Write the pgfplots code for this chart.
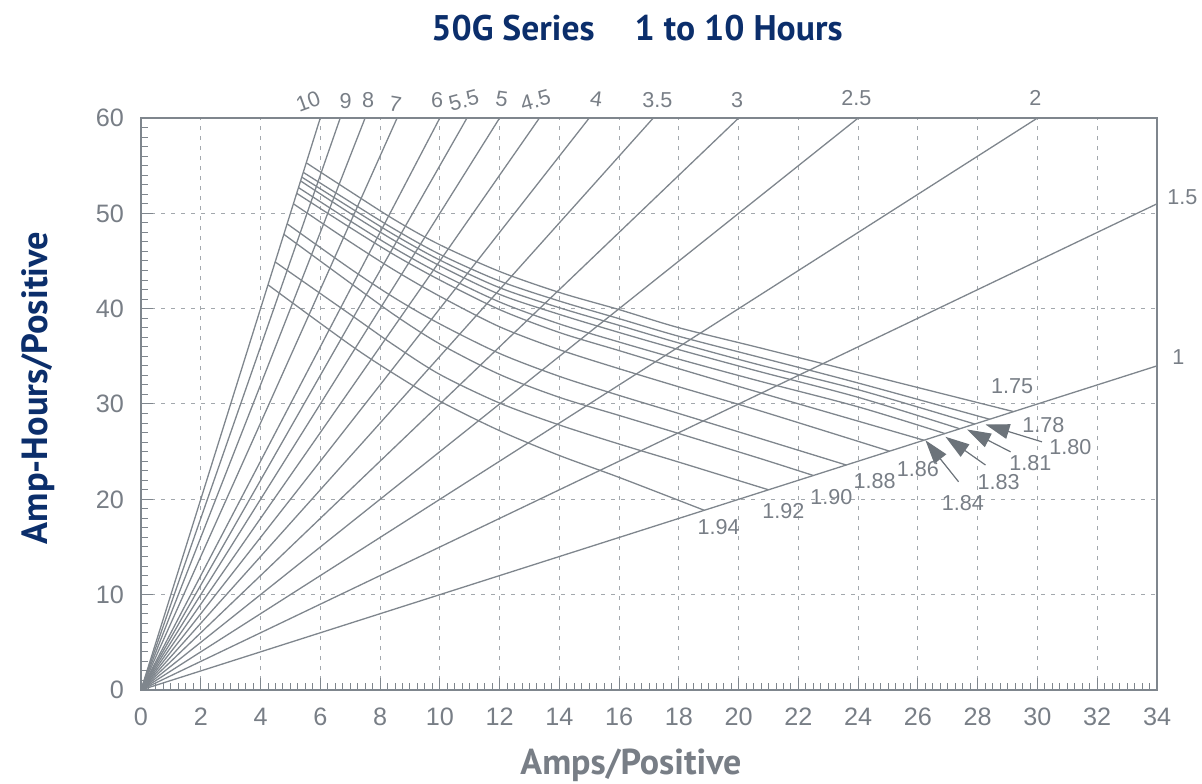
\documentclass[border=0pt]{standalone}
\usepackage{fontspec}
\setmainfont{Liberation Sans}
\newfontfamily\titlefont{PT Sans}
\usepackage{pgfplots}
\pgfplotsset{compat=1.18}
\usetikzlibrary{arrows.meta}
\definecolor{ln}{HTML}{7F868D}
\definecolor{txt}{HTML}{787E86}
\definecolor{navy}{HTML}{0B2E6B}
\definecolor{grd}{HTML}{A3A8AD}
\definecolor{arr}{HTML}{6C737A}
\tikzset{
  hl/.style={ln, line width=0.65pt},
  cv/.style={ln, line width=0.65pt, smooth},
  ar/.style={arr, line width=0.6pt, -{Triangle[length=12pt, width=7.5pt]}},
  vl/.style={txt, inner sep=1pt, font=\fontsize{10.8}{10.8}\selectfont},
}
\begin{document}
\begin{tikzpicture}
\begin{axis}[name=ax, scale only axis, width=508pt, height=286pt,
  xmin=0, xmax=34, ymin=0, ymax=60,
  xtick={0,2,...,34}, ytick={0,10,...,60},
  minor x tick num=7, minor y tick num=9,
  tick align=inside, xtick pos=bottom, ytick pos=left,
  major tick length=6pt, minor tick length=3.5pt,
  grid=major, major grid style={grd, dash pattern=on 2pt off 3pt, line width=0.5pt},
  axis line style={ln, line width=1pt},
  every tick/.style={ln, line width=0.5pt},
  tick label style={txt, font=\fontsize{12.6}{12.6}\selectfont},
  xticklabel style={yshift=-5.5pt},
  yticklabel style={xshift=-5pt},
  /pgf/number format/assume math mode=true,
  clip=false,
]
% hour lines
\addplot[hl] coordinates {(0,0) (6,60)};
\addplot[hl] coordinates {(0,0) (6.667,60)};
\addplot[hl] coordinates {(0,0) (7.5,60)};
\addplot[hl] coordinates {(0,0) (8.571,60)};
\addplot[hl] coordinates {(0,0) (10,60)};
\addplot[hl] coordinates {(0,0) (10.909,60)};
\addplot[hl] coordinates {(0,0) (12,60)};
\addplot[hl] coordinates {(0,0) (13.333,60)};
\addplot[hl] coordinates {(0,0) (15,60)};
\addplot[hl] coordinates {(0,0) (17.143,60)};
\addplot[hl] coordinates {(0,0) (20,60)};
\addplot[hl] coordinates {(0,0) (24,60)};
\addplot[hl] coordinates {(0,0) (30,60)};
\addplot[hl] coordinates {(0,0) (34,51)};
\addplot[hl] coordinates {(0,0) (34,34)};
% end-voltage curves
\addplot[cv] coordinates {(5.53,55.3) (7,52.3) (8.5,49.3) (10,46.7) (12,43.9) (14,41.7) (16,39.9) (18,38.0) (20.7,35.9) (24,33.3) (29.2,29.2)};
\addplot[cv] coordinates {(5.43,54.3) (7,51.2) (8.5,48.3) (10,45.7) (12,42.9) (14,40.8) (16,38.95) (18,37.1) (20.7,34.9) (24,32.2) (28.4,28.4)};
\addplot[cv] coordinates {(5.38,53.8) (7,50.6) (8.5,47.7) (10,45.1) (12,42.2) (14,40.1) (16,38.25) (18,36.4) (20.7,34.1) (24,31.5) (27.9,27.9)};
\addplot[cv] coordinates {(5.34,53.4) (7,50.0) (8.5,47.1) (10,44.5) (12,41.5) (14,39.4) (16,37.5) (18,35.7) (20.7,33.4) (24,30.7) (27.4,27.4)};
\addplot[cv] coordinates {(5.27,52.7) (7,49.2) (8.5,46.3) (10,43.7) (12,40.7) (14,38.4) (16,36.5) (18,34.7) (20.7,32.4) (24,29.7) (26.9,26.9)};
\addplot[cv] coordinates {(5.21,52.1) (7,48.5) (8.5,45.6) (10,43.0) (12,39.9) (14,37.5) (16,35.6) (18,33.7) (20.7,31.2) (24,28.2) (26.2,26.2)};
\addplot[cv] coordinates {(5.10,51.0) (7,47.0) (8.5,44.0) (10,41.3) (12,38.1) (14,35.7) (16,33.7) (18,31.8) (20.7,29.3) (25.05,25.05)};
\addplot[cv] coordinates {(4.89,48.9) (7,44.2) (8.5,41.1) (10,38.4) (12,35.3) (14,32.9) (16,30.9) (18,29.0) (20.7,26.4) (23.6,23.6)};
\addplot[cv] coordinates {(4.78,47.8) (7,42.7) (8.5,39.3) (10,36.3) (12,33.1) (14,30.7) (16,28.8) (18,26.9) (20.7,24.3) (22.5,22.5)};
\addplot[cv] coordinates {(4.49,44.9) (7,39.4) (8.5,36.1) (10,33.1) (12,30.1) (14,27.8) (16,25.8) (18,23.9) (21.0,21.0)};
\addplot[cv] coordinates {(4.25,42.5) (7,36.2) (8.5,33.1) (10,30.3) (12,27.2) (14,24.6) (16,22.3) (18.85,18.85)};
% arrows
\addplot[ar] coordinates {(27.36,21.84) (26.25,26.2)};
\addplot[ar] coordinates {(28.26,23.6) (26.92,26.56)};
\addplot[ar] coordinates {(29.1,24.98) (27.64,27.33)};
\addplot[ar] coordinates {(30.15,26.03) (28.26,27.85)};
% voltage labels
\node[vl] at (axis cs:29.15,31.9) {1.75};
\node[vl] at (axis cs:30.2,27.8) {1.78};
\node[vl] at (axis cs:31.1,25.5) {1.80};
\node[vl] at (axis cs:29.76,23.8) {1.81};
\node[vl] at (axis cs:28.7,21.8) {1.83};
\node[vl] at (axis cs:27.5,19.6) {1.84};
\node[vl] at (axis cs:26.0,23.2) {1.86};
\node[vl] at (axis cs:24.55,21.9) {1.88};
\node[vl] at (axis cs:23.1,20.2) {1.90};
\node[vl] at (axis cs:21.5,18.8) {1.92};
\node[vl] at (axis cs:19.33,17.1) {1.94};
% hour labels
\node[vl, inner sep=0pt, rotate=20] at (axis cs:5.8,60) [yshift=9pt] {10};
\node[vl, inner sep=0pt] at (axis cs:6.85,60) [yshift=8.5pt] {9};
\node[vl, inner sep=0pt] at (axis cs:7.6,60) [yshift=9pt] {8};
\node[vl, rotate=-10] at (axis cs:8.43,60) [yshift=7pt] {7};
\node[vl] at (axis cs:9.91,60) [yshift=9pt] {6};
\node[vl, rotate=15] at (axis cs:10.96,60) [yshift=9pt] {5.5};
\node[vl, rotate=-8] at (axis cs:11.99,60) [yshift=9.5pt] {5};
\node[vl, rotate=15] at (axis cs:13.36,60) [yshift=9pt] {4.5};
\node[vl, rotate=-8] at (axis cs:15.15,60) [yshift=9.5pt] {4};
\node[vl] at (axis cs:17.28,60) [yshift=9pt] {3.5};
\node[vl] at (axis cs:19.95,60) [yshift=9pt] {3};
\node[vl] at (axis cs:23.94,60) [yshift=10pt] {2.5};
\node[vl] at (axis cs:29.93,60) [yshift=10pt] {2};
\node[vl] at (axis cs:34,51.7) [xshift=12.7pt] {1.5};
\node[vl] at (axis cs:34,34.9) [xshift=10.7pt] {1};
\end{axis}
\node[navy, font=\titlefont\bfseries\fontsize{17.8}{17.8}\selectfont] at ([xshift=-6pt, yshift=45pt]ax.north) {50G Series\hspace{20pt}1 to 10 Hours};
\node[txt, font=\titlefont\bfseries\fontsize{18}{18}\selectfont] at ([xshift=-9pt, yshift=-37.5pt]ax.south) {Amps/Positive};
\node[navy, rotate=90, font=\titlefont\bfseries\fontsize{18.2}{18.2}\selectfont] at ([xshift=-51.5pt, yshift=8pt]ax.west) {Amp-Hours/Positive};
\pgfresetboundingbox
\path[use as bounding box] ([xshift=-70.5pt, yshift=-47pt]ax.south west) rectangle ([xshift=22.5pt, yshift=59pt]ax.north east);
\end{tikzpicture}
\end{document}
